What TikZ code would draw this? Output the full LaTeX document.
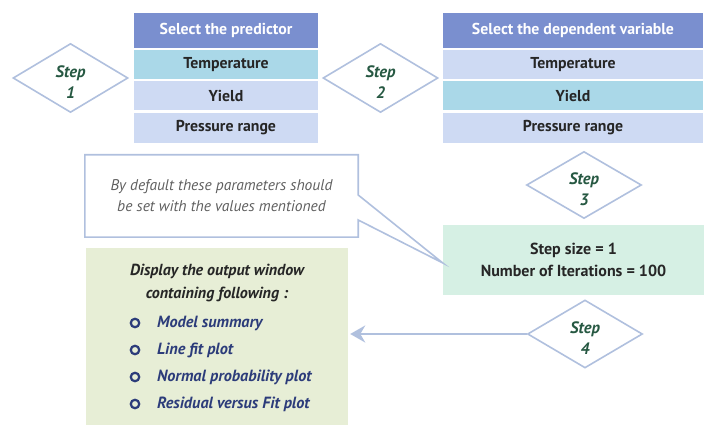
\documentclass[tikz,border=0pt]{standalone}
\usepackage{fontspec}
\setmainfont{PT Sans}
\usetikzlibrary{shapes.geometric,arrows.meta}

\definecolor{hdrblue}{RGB}{122,143,207}
\definecolor{rowcyan}{RGB}{170,216,232}
\definecolor{rowlight}{RGB}{206,218,243}
\definecolor{parambg}{RGB}{214,240,228}
\definecolor{outbg}{RGB}{231,238,214}
\definecolor{edgeblue}{RGB}{176,192,222}
\definecolor{stepgreen}{RGB}{38,88,66}
\definecolor{itemblue}{RGB}{44,60,122}
\definecolor{notegray}{RGB}{95,95,95}

\tikzset{
  hdrcell/.style={rectangle, fill=hdrblue, text=white, font=\fontsize{15.8}{17}\selectfont\bfseries,
    minimum width=184pt, minimum height=35pt, inner sep=0pt},
  cell/.style={rectangle, fill=rowlight, text=black!85, font=\fontsize{15.8}{17}\selectfont\bfseries,
    minimum width=184pt, minimum height=29pt, inner sep=0pt},
  steplabel/.style={text=stepgreen, align=center, yshift=-4pt,
    font=\fontsize{16.5}{21}\selectfont\bfseries\itshape},
  stepbox/.style={diamond, draw=edgeblue, line width=1.6pt, fill=white,
    minimum width=115pt, minimum height=69pt, inner sep=0pt,
    label={[steplabel]center:{#1}}},
  item/.style={anchor=west, text=itemblue, font=\fontsize{16.2}{18}\selectfont\bfseries\itshape, inner sep=0pt},
  dot/.style={circle, draw=itemblue, line width=2.2pt, minimum size=8.5pt, inner sep=0pt},
  flowarrow/.style={draw=edgeblue, line width=2pt, -{Stealth[length=15pt,width=17pt]}},
}

\begin{document}
\begin{tikzpicture}[x=1pt,y=-1pt]
\useasboundingbox (0,0) rectangle (704,427);

% predictor table
\node[hdrcell] (ph) at (226,30.5) {Select the predictor};
\node[cell, fill=rowcyan] (p1) at (226,64.5) {Temperature};
\node[cell] (p2) at (226,95.5) {Yield};
\node[cell, minimum height=30pt] (p3) at (226,128) {Pressure range};

% dependent variable table
\node[hdrcell, minimum width=260pt] (dh) at (573,30.5) {Select the dependent variable};
\node[cell, minimum width=260pt] (d1) at (573,64.5) {Temperature};
\node[cell, minimum width=260pt, fill=rowcyan] (d2) at (573,95.5) {Yield};
\node[cell, minimum width=260pt, minimum height=30pt] (d3) at (573,128) {Pressure range};

% step markers
\node[stepbox={Step\\1}] (s1) at (70.5,78) {};
\node[stepbox={Step\\2}] (s2) at (380.5,78) {};
\node[stepbox={Step\\3}, minimum height=67pt] (s3) at (584,185) {};
\node[stepbox={Step\\4}, minimum height=68pt] (s4) at (585,334) {};

% parameter box
\node[rectangle, fill=parambg, minimum width=261pt, minimum height=70pt, inner sep=0pt,
  align=center, font=\fontsize{16}{22}\selectfont\bfseries, text=black!85]
  (param) at (573.5,260) {Step size = 1\\Number of Iterations = 100};

% callout note pointing at the parameter box
\node[rectangle, minimum width=273pt, minimum height=82pt, inner sep=0pt, align=center,
  text=notegray, font=\fontsize{15.5}{21}\selectfont\itshape]
  (note) at (221.5,196) {By default these parameters should\\be set with the values mentioned};
\coordinate (tip) at ([yshift=-3pt]param.west);
\draw[edgeblue, line width=1.6pt, line join=miter]
  (note.north west) -- (note.north east) -- ([yshift=1pt]note.east)
  -- (tip) -- ([yshift=-24pt]note.east) -- (note.south east)
  -- (note.south west) -- cycle;

% output window box
\node[rectangle, fill=outbg, minimum width=262pt, minimum height=177pt, inner sep=0pt]
  (out) at (217,336.5) {};
\node[align=center, font=\fontsize{16}{23}\selectfont\bfseries\itshape, text=black!85]
  (outtitle) at (217,283.5) {Display the output window\\containing following :};
\node[dot] (b1) at (135,323) {};
\node[dot] (b2) at (135,350) {};
\node[dot] (b3) at (135,377) {};
\node[dot] (b4) at (135,404) {};
\node[item] (i1) at (157,323) {Model summary};
\node[item] (i2) at (157,350) {Line fit plot};
\node[item] (i3) at (157,377) {Normal probability plot};
\node[item] (i4) at (157,404) {Residual versus Fit plot};

% step 4 leads to the output window
\draw[flowarrow] (s4.west) -- ([xshift=2pt]out.east |- s4.west);
\end{tikzpicture}
\end{document}
